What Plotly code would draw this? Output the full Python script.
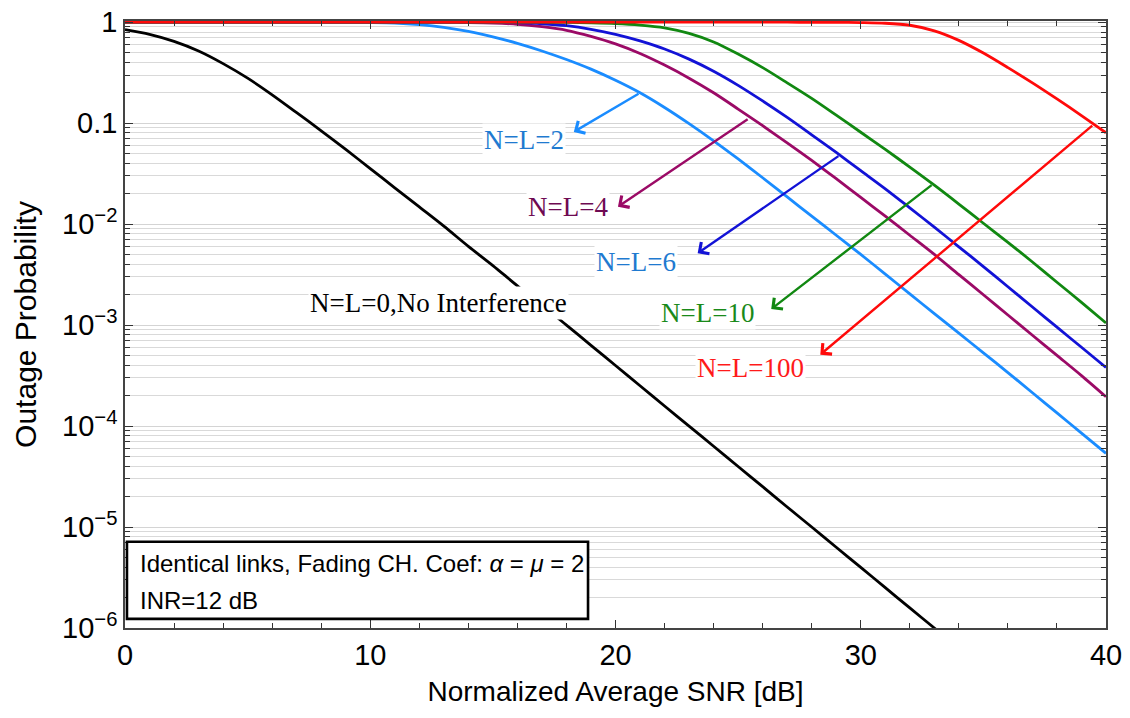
import plotly.graph_objects as go
import math

# ---------------- data ----------------
snr = list(range(0, 41))

p_black = [0.843, 0.759, 0.646, 0.519, 0.389, 0.279, 0.191, 0.127, 0.0841, 0.0550,
           0.0355, 0.0229, 0.0148, 9.55e-3, 6.03e-3, 3.89e-3, 2.45e-3, 1.58e-3, 1.0e-3, 6.31e-4,
           3.98e-4, 2.51e-4, 1.58e-4, 1.0e-4, 6.31e-5, 3.98e-5, 2.51e-5, 1.58e-5, 1.0e-5, 6.31e-6,
           3.98e-6, 2.51e-6, 1.58e-6, 1.0e-6, 6.31e-7, 3.98e-7, 2.51e-7, 1.58e-7, 1.0e-7, 6.31e-8,
           3.98e-8]

p_n2 = [1.0, 1.0, 1.0, 1.0, 1.0, 1.0, 1.0, 1.0, 1.0, 0.998,
        0.993, 0.982, 0.948, 0.891, 0.813, 0.716, 0.617, 0.519, 0.427, 0.343,
        0.266, 0.200, 0.143, 0.0989, 0.0668, 0.0442, 0.0288, 0.0186, 0.0120, 7.76e-3,
        5.01e-3, 3.20e-3, 2.04e-3, 1.30e-3, 8.32e-4, 5.31e-4, 3.39e-4, 2.14e-4, 1.35e-4, 8.51e-5,
        5.37e-5]

p_n4 = [1.0, 1.0, 1.0, 1.0, 1.0, 1.0, 1.0, 1.0, 1.0, 1.0,
        1.0, 1.0, 1.0, 0.998, 0.993, 0.982, 0.955, 0.902, 0.832, 0.724,
        0.610, 0.490, 0.376, 0.279, 0.200, 0.138, 0.0944, 0.0638, 0.0427, 0.0282,
        0.0184, 0.0120, 7.76e-3, 5.01e-3, 3.16e-3, 2.00e-3, 1.26e-3, 7.94e-4, 5.01e-4, 3.16e-4,
        1.95e-4]

p_n6 = [1.0, 1.0, 1.0, 1.0, 1.0, 1.0, 1.0, 1.0, 1.0, 1.0,
        1.0, 1.0, 1.0, 1.0, 1.0, 0.998, 0.989, 0.966, 0.923, 0.851,
        0.759, 0.653, 0.543, 0.431, 0.327, 0.237, 0.166, 0.114, 0.0767, 0.0513,
        0.0339, 0.0224, 0.0145, 9.33e-3, 5.96e-3, 3.80e-3, 2.40e-3, 1.51e-3, 9.55e-4, 6.03e-4,
        3.80e-4]

p_n10 = [1.0, 1.0, 1.0, 1.0, 1.0, 1.0, 1.0, 1.0, 1.0, 1.0,
         1.0, 1.0, 1.0, 1.0, 1.0, 1.0, 1.0, 1.0, 0.995, 0.986,
         0.971, 0.938, 0.881, 0.776, 0.638, 0.484, 0.355, 0.251, 0.176, 0.120,
         0.0813, 0.0550, 0.0367, 0.0243, 0.0158, 0.0102, 6.61e-3, 4.22e-3, 2.66e-3, 1.68e-3,
         1.05e-3]

p_n100 = [1.0, 1.0, 1.0, 1.0, 1.0, 1.0, 1.0, 1.0, 1.0, 1.0,
          1.0, 1.0, 1.0, 1.0, 1.0, 1.0, 1.0, 1.0, 1.0, 1.0,
          1.0, 1.0, 1.0, 1.0, 1.0, 1.0, 1.0, 1.0, 0.999, 0.997,
          0.991, 0.977, 0.933, 0.822, 0.661, 0.495, 0.355, 0.251, 0.174, 0.119,
          0.0804]

series_names = ["N=L=0,No Interference", "N=L=2", "N=L=4", "N=L=6", "N=L=10", "N=L=100"]
line_colors = ["#000000", "#1a8cff", "#9b0a66", "#1212d6", "#118811", "#ff0a0a"]
label_colors = ["#000000", "#1f7ad0", "#6e0a52", "#1f7ad0", "#1a8a1a", "#ff1a1a"]

# label centres (x in dB, y as probability)
label_x = [12.8, 16.25, 18.05, 20.85, 23.75, 25.5]
label_y = [1.66e-3, 0.068, 0.0148, 4.23e-3, 1.32e-3, 3.78e-4]
# arrow tails (on curve) and heads (near labels)
tail_x = [None, 21.0, 25.45, 29.15, 32.95, 39.5]
tail_y = [None, 0.200, 0.112, 0.0483, 0.0250, 0.0973]
head_x = [None, 18.3, 20.1, 23.35, 26.35, 28.35]
head_y = [None, 0.082, 0.0149, 5.15e-3, 1.44e-3, 5.1e-4]

y_tickvals = [1e-6, 1e-5, 1e-4, 1e-3, 1e-2, 0.1, 1]
y_ticktext = ["10<sup>−6</sup>", "10<sup>−5</sup>", "10<sup>−4</sup>", "10<sup>−3</sup>",
              "10<sup>−2</sup>", "0.1", "1"]
x_tickvals = [0, 10, 20, 30, 40]

# ---------------- figure ----------------
ys = [p_black, p_n2, p_n4, p_n6, p_n10, p_n100]

fig = go.Figure()
for yv, name, col in zip(ys, series_names, line_colors):
    fig.add_trace(go.Scatter(x=snr, y=yv, mode="lines", name=name,
                             line=dict(color=col, width=2.8, shape="spline", smoothing=0.8)))

annotations = []
for i in range(1, 6):
    annotations.append(dict(
        x=head_x[i], y=math.log10(head_y[i]), xref="x", yref="y",
        ax=tail_x[i], ay=math.log10(tail_y[i]), axref="x", ayref="y",
        text="", showarrow=True, arrowhead=4, arrowsize=1.15, arrowwidth=2.4,
        arrowcolor=line_colors[i], font=dict(size=1), standoff=0, startstandoff=0))
for i in range(6):
    annotations.append(dict(
        x=label_x[i], y=math.log10(label_y[i]), xref="x", yref="y",
        text=series_names[i], showarrow=False, bgcolor="white", borderpad=1,
        font=dict(family="Liberation Serif, Times New Roman, serif", size=27, color=label_colors[i])))

box_font = dict(family="Liberation Sans, Arial, sans-serif", size=24, color="black")
annotations.append(dict(x=0.013, y=0.107, xref="paper", yref="paper", xanchor="left",
                        yanchor="middle", showarrow=False, font=box_font,
                        text="Identical links, Fading CH. Coef: <i>α</i> = <i>μ</i> = 2"))
annotations.append(dict(x=0.013, y=0.046, xref="paper", yref="paper", xanchor="left",
                        yanchor="middle", showarrow=False, font=box_font, text="INR=12 dB"))

minor_vals = [m * 10.0 ** k for k in range(-6, 0) for m in range(2, 10)]

fig.update_layout(
    width=1122, height=710,
    margin=dict(l=117, r=24, t=13, b=90, autoexpand=False),
    paper_bgcolor="white", plot_bgcolor="white",
    showlegend=False,
    font=dict(family="Liberation Sans, Arial, sans-serif", color="black"),
    annotations=annotations,
    shapes=[dict(type="rect", xref="paper", yref="paper", x0=0.002, x1=0.472, y0=0.015, y1=0.142,
                 line=dict(color="black", width=2.6), fillcolor="white", layer="above")],
    xaxis=dict(range=[0, 40], tickvals=x_tickvals, ticks="inside", ticklen=8, tickwidth=1.2,
               tickcolor="#333", showline=True, linecolor="#444", linewidth=1.5, mirror="allticks",
               showgrid=False, zeroline=False, automargin=False, ticklabeloverflow="allow",
               minor=dict(dtick=2, ticks="inside", ticklen=5, tickcolor="#333", showgrid=False),
               tickfont=dict(size=29),
               title=dict(text="Normalized Average SNR [dB]", font=dict(size=28), standoff=12)),
    yaxis=dict(type="log", range=[-6, 0.012], tickvals=y_tickvals, ticktext=y_ticktext,
               ticks="inside", ticklen=8, tickwidth=1.2, tickcolor="#333",
               showline=True, linecolor="#444", linewidth=1.5, mirror="allticks",
               showgrid=True, gridcolor="#d4d4d4", gridwidth=1, zeroline=False, automargin=False,
               ticklabeloverflow="allow",
               minor=dict(tickvals=minor_vals, ticks="inside", ticklen=5, tickcolor="#333",
                          showgrid=True, gridcolor="#d9d9d9", gridwidth=1),
               tickfont=dict(size=29),
               title=dict(text="Outage Probability", font=dict(size=30), standoff=17)),
)

fig.write_html("out.html")
